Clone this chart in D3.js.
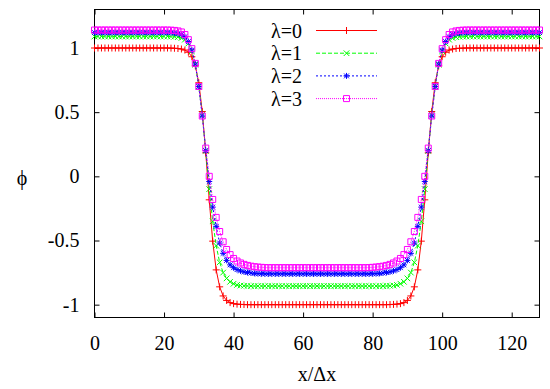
<!DOCTYPE html>
<html>
<head>
<meta charset="utf-8">
<script src="https://cdn.jsdelivr.net/npm/d3@7"></script>
<style>
body { margin: 0; background: #fff; }
text { font-family: "Liberation Serif", "Times New Roman", serif; }
</style>
</head>
<body>
<svg id="chart" width="550" height="389"></svg>
<script>
// tick values / labels
var xTicks = [0, 20, 40, 60, 80, 100, 120];
var yTicks = [-1, -0.5, 0, 0.5, 1];
var yTickLabels = ["-1", "-0.5", "0", "0.5", "1"];
var seriesLabels = ["λ=0", "λ=1", "λ=2", "λ=3"];

// phi at grid points x = 0..128 (index = x)
var phi0 = [
    1, 1, 1, 1, 1, 1, 1, 1, 1, 1, 1, 1, 1, 1, 1, 1, 1, 1, 1, 1, 1, 1,
    0.999, 0.998, 0.996, 0.992, 0.984, 0.967, 0.932, 0.861, 0.729, 0.505, 0.183,
    -0.183, -0.505, -0.729, -0.861, -0.932, -0.967, -0.984, -0.992, -0.996, -0.998, -0.999,
    -1, -1, -1, -1, -1, -1,
    -1, -1, -1, -1, -1, -1, -1, -1, -1, -1, -1, -1, -1, -1, -1, -1, -1, -1, -1, -1,
    -1, -1, -1, -1, -1, -1, -1, -1, -1,
    -1, -1, -1, -1, -1, -1,
    -0.999, -0.998, -0.996, -0.992, -0.984, -0.967, -0.932, -0.861, -0.729, -0.505, -0.183,
    0.183, 0.505, 0.729, 0.861, 0.932, 0.967, 0.984, 0.992, 0.996, 0.998, 0.999,
    1, 1, 1, 1, 1, 1, 1, 1, 1, 1, 1, 1, 1, 1, 1, 1, 1, 1, 1, 1, 1, 1
];
var phi1 = [
    1.09, 1.09, 1.09, 1.09, 1.09, 1.09, 1.09, 1.09, 1.09, 1.09,
    1.09, 1.09, 1.09, 1.09, 1.09, 1.09, 1.09, 1.09, 1.09, 1.09, 1.09, 1.09,
    1.089, 1.088, 1.085, 1.078, 1.065, 1.035, 0.975, 0.87, 0.70, 0.48, 0.20,
    -0.10, -0.35, -0.54, -0.67, -0.75, -0.795, -0.822, -0.837, -0.846, -0.851, -0.853,
    -0.854, -0.855, -0.855, -0.855, -0.855, -0.855,
    -0.855, -0.855, -0.855, -0.855, -0.855, -0.855, -0.855, -0.855, -0.855, -0.855,
    -0.855, -0.855, -0.855, -0.855, -0.855, -0.855, -0.855, -0.855, -0.855, -0.855,
    -0.855, -0.855, -0.855, -0.855, -0.855, -0.855, -0.855, -0.855, -0.855,
    -0.855, -0.855, -0.855, -0.855, -0.855, -0.854,
    -0.853, -0.851, -0.846, -0.837, -0.822, -0.795, -0.75, -0.67, -0.54, -0.35, -0.10,
    0.20, 0.48, 0.70, 0.87, 0.975, 1.035, 1.065, 1.078, 1.085, 1.088, 1.089,
    1.09, 1.09, 1.09, 1.09, 1.09, 1.09, 1.09, 1.09, 1.09, 1.09,
    1.09, 1.09, 1.09, 1.09, 1.09, 1.09, 1.09, 1.09, 1.09, 1.09, 1.09, 1.09
];
var phi2 = [
    1.12, 1.12, 1.12, 1.12, 1.12, 1.12, 1.12, 1.12, 1.12, 1.12,
    1.12, 1.12, 1.12, 1.12, 1.12, 1.12, 1.12, 1.12, 1.12, 1.12, 1.12, 1.12,
    1.119, 1.117, 1.113, 1.105, 1.088, 1.05, 0.985, 0.875, 0.70, 0.47, 0.20,
    -0.04, -0.24, -0.39, -0.52, -0.60, -0.655, -0.69, -0.712, -0.727, -0.737, -0.744,
    -0.749, -0.753, -0.756, -0.758, -0.759, -0.76,
    -0.76, -0.76, -0.76, -0.76, -0.76, -0.76, -0.76, -0.76, -0.76, -0.76,
    -0.76, -0.76, -0.76, -0.76, -0.76, -0.76, -0.76, -0.76, -0.76, -0.76,
    -0.76, -0.76, -0.76, -0.76, -0.76, -0.76, -0.76, -0.76, -0.76,
    -0.76, -0.759, -0.758, -0.756, -0.753, -0.749,
    -0.744, -0.737, -0.727, -0.712, -0.69, -0.655, -0.60, -0.52, -0.39, -0.24, -0.04,
    0.20, 0.47, 0.70, 0.875, 0.985, 1.05, 1.088, 1.105, 1.113, 1.117, 1.119,
    1.12, 1.12, 1.12, 1.12, 1.12, 1.12, 1.12, 1.12, 1.12, 1.12,
    1.12, 1.12, 1.12, 1.12, 1.12, 1.12, 1.12, 1.12, 1.12, 1.12, 1.12, 1.12
];
var phi3 = [
    1.14, 1.14, 1.14, 1.14, 1.14, 1.14, 1.14, 1.14, 1.14, 1.14,
    1.14, 1.14, 1.14, 1.14, 1.14, 1.14, 1.14, 1.14, 1.14, 1.14, 1.14, 1.14,
    1.139, 1.137, 1.133, 1.125, 1.105, 1.065, 0.995, 0.88, 0.70, 0.47, 0.22,
    0.0, -0.18, -0.32, -0.43, -0.51, -0.57, -0.61, -0.64, -0.66, -0.675, -0.686,
    -0.694, -0.70, -0.704, -0.707, -0.709, -0.711,
    -0.712, -0.712, -0.712, -0.712, -0.712, -0.712, -0.712, -0.712, -0.712, -0.712,
    -0.712, -0.712, -0.712, -0.712, -0.712, -0.712, -0.712, -0.712, -0.712, -0.712,
    -0.712, -0.712, -0.712, -0.712, -0.712, -0.712, -0.712, -0.712, -0.712,
    -0.711, -0.709, -0.707, -0.704, -0.70, -0.694,
    -0.686, -0.675, -0.66, -0.64, -0.61, -0.57, -0.51, -0.43, -0.32, -0.18, 0.0,
    0.22, 0.47, 0.70, 0.88, 0.995, 1.065, 1.105, 1.125, 1.133, 1.137, 1.139,
    1.14, 1.14, 1.14, 1.14, 1.14, 1.14, 1.14, 1.14, 1.14, 1.14,
    1.14, 1.14, 1.14, 1.14, 1.14, 1.14, 1.14, 1.14, 1.14, 1.14, 1.14, 1.14
];

var series = [
    { label: seriesLabels[0], values: phi0, color: "#ff0000", dash: null, mark: "plus" },
    { label: seriesLabels[1], values: phi1, color: "#00ff00", dash: "4,2", mark: "cross" },
    { label: seriesLabels[2], values: phi2, color: "#0000ff", dash: "2,2", mark: "star" },
    { label: seriesLabels[3], values: phi3, color: "#ff00ff", dash: "1,1", mark: "square" }
];

series.forEach(function (s) {
    if (s.values.length !== 129) throw new Error(s.label + " has " + s.values.length + " points");
});

// plot box (window.top is reserved, so prefix these)
var boxLeft = 94.5, boxRight = 539.5, boxTop = 9.5, boxBottom = 317.5;

var x = d3.scaleLinear().domain([0, 128]).range([boxLeft, boxRight]);
var y = d3.scaleLinear().domain([-1.1, 1.3]).range([boxBottom, boxTop]);

var svg = d3.select("#chart");

// axes, ticks pointing inward, mirrored on top/right
svg.append("g")
    .attr("class", "axis")
    .attr("transform", "translate(0," + boxBottom + ")")
    .call(d3.axisBottom(x).tickValues(xTicks).tickSizeInner(-5).tickSizeOuter(0).tickPadding(18));
svg.append("g")
    .attr("class", "axis")
    .attr("transform", "translate(0," + boxTop + ")")
    .call(d3.axisTop(x).tickValues(xTicks).tickSizeInner(-5).tickSizeOuter(0).tickFormat(""));
svg.append("g")
    .attr("class", "axis")
    .attr("transform", "translate(" + boxLeft + ",0)")
    .call(d3.axisLeft(y).tickValues(yTicks).tickSizeInner(-5).tickSizeOuter(0).tickPadding(15)
        .tickFormat(function (d, i) { return yTickLabels[i]; }));
svg.append("g")
    .attr("class", "axis")
    .attr("transform", "translate(" + boxRight + ",0)")
    .call(d3.axisRight(y).tickValues(yTicks).tickSizeInner(-5).tickSizeOuter(0).tickFormat(""));

svg.selectAll(".axis .domain").remove();
svg.selectAll(".axis line").attr("stroke", "#000").attr("stroke-width", 1);
svg.selectAll(".axis text")
    .attr("fill", "#000")
    .style("font-family", "'Liberation Serif', serif")
    .style("font-size", "20px");

// frame
svg.append("rect")
    .attr("x", boxLeft).attr("y", boxTop)
    .attr("width", boxRight - boxLeft).attr("height", boxBottom - boxTop)
    .attr("fill", "none").attr("stroke", "#000").attr("stroke-width", 1);

// axis titles
svg.append("text")
    .attr("x", (boxLeft + boxRight) / 2).attr("y", 381)
    .attr("text-anchor", "middle")
    .style("font-size", "20px")
    .text("x/Δx");
svg.append("text")
    .attr("x", 22).attr("y", 185)
    .attr("text-anchor", "middle")
    .style("font-size", "20px")
    .text("ϕ");

function markPath(type, cx, cy) {
    var p = d3.path();
    if (type === "plus" || type === "star") {
        var a = type === "plus" ? 3.5 : 3;
        p.moveTo(cx - a, cy); p.lineTo(cx + a, cy);
        p.moveTo(cx, cy - a); p.lineTo(cx, cy + a);
    }
    if (type === "cross" || type === "star") {
        var b = type === "cross" ? 2.8 : 2.4;
        p.moveTo(cx - b, cy - b); p.lineTo(cx + b, cy + b);
        p.moveTo(cx - b, cy + b); p.lineTo(cx + b, cy - b);
    }
    if (type === "square") {
        p.rect(cx - 3, cy - 3, 6, 6);
    }
    return p.toString();
}

var line = d3.line()
    .x(function (d, i) { return x(i); })
    .y(function (d) { return y(d); });

var plot = svg.append("g");

series.forEach(function (s) {
    plot.append("path")
        .attr("d", line(s.values))
        .attr("fill", "none")
        .attr("stroke", s.color)
        .attr("stroke-width", 1)
        .attr("stroke-dasharray", s.dash);

    plot.append("path")
        .attr("d", s.values.map(function (v, i) { return markPath(s.mark, x(i), y(v)); }).join(""))
        .attr("fill", "none")
        .attr("stroke", s.color)
        .attr("stroke-width", 1);
});

// legend
var legend = svg.append("g");
series.forEach(function (s, i) {
    var ly = 30.5 + i * 22.7;
    legend.append("text")
        .attr("x", 302).attr("y", ly + 7)
        .attr("text-anchor", "end")
        .style("font-size", "20px")
        .text(s.label);
    legend.append("line")
        .attr("x1", 316).attr("x2", 377)
        .attr("y1", ly).attr("y2", ly)
        .attr("stroke", s.color)
        .attr("stroke-width", 1)
        .attr("stroke-dasharray", s.dash);
    legend.append("path")
        .attr("d", markPath(s.mark, 346.5, ly))
        .attr("fill", "none")
        .attr("stroke", s.color)
        .attr("stroke-width", 1);
});
</script>
</body>
</html>
